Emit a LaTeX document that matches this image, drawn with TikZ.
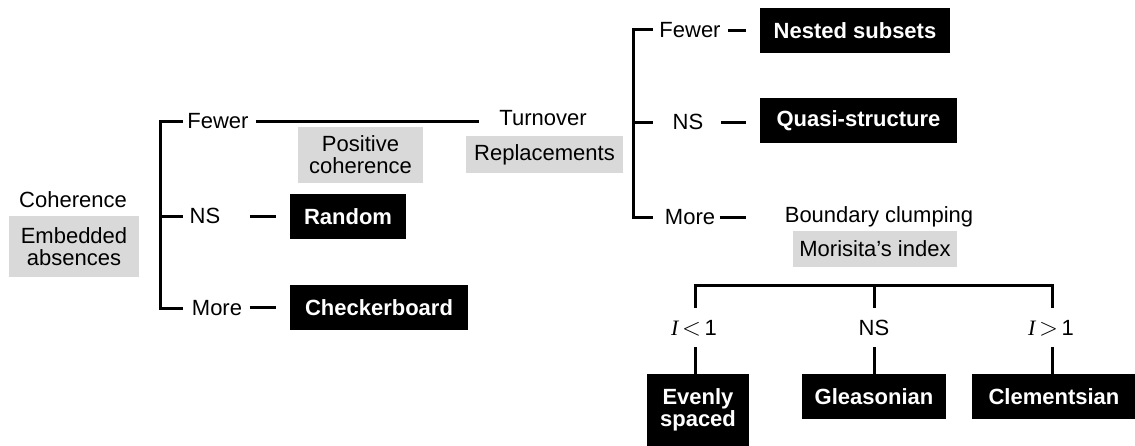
\documentclass[tikz,border=0pt]{standalone}
\usepackage{fontspec}
\setmainfont{Liberation Sans}
\newfontfamily\seriffont{Liberation Serif}
\definecolor{lightbox}{RGB}{217,217,217}
\begin{document}
\begin{tikzpicture}[x=1pt,y=-1pt,
  every node/.style={font=\fontsize{22}{25}\selectfont},
  lbl/.style={inner sep=0pt},
  graybox/.style={fill=lightbox,inner sep=0pt,align=center,font=\fontsize{22}{25}\selectfont},
  blackbox/.style={fill=black,text=white,inner sep=0pt,align=center,font=\fontsize{22}{25}\selectfont\bfseries},
  ln/.style={line width=3pt,line cap=butt,line join=miter}]
\useasboundingbox (0,0) rectangle (1135,445);
% left part
\node[lbl] (coh) at (73,200) {Coherence};
\node[graybox,minimum width=130pt,minimum height=61pt] (emb) at (74,246.5) {Embedded\\[-3pt]absences};
\node[lbl] (f1) at (218,121) {Fewer};
\node[lbl] (ns1) at (205,216) {NS};
\node[lbl] (m1) at (217,308) {More};
\coordinate (b1a) at (183,121);
\coordinate (b1b) at (160,121);
\coordinate (b1c) at (160,308);
\coordinate (b1d) at (183,308);
\coordinate (b1m) at (183,216);
\draw[ln] (b1a) -- (b1b) -- (b1c) -- (b1d);
\draw[ln] (b1b|-b1m) -- (b1m);
\node[lbl] (turn) at (543,118) {Turnover};
\draw[ln] ([xshift=7pt]f1.east) -- ([xshift=-20pt]turn.west|-f1.east);
\node[graybox,minimum width=125pt,minimum height=56pt] (pos) at (360.5,155) {Positive\\[-3pt]coherence};
\node[blackbox,minimum width=116pt,minimum height=45pt] (random) at (348,216.5) {Random};
\node[blackbox,minimum width=178pt,minimum height=45pt] (checker) at (379,307.5) {Checkerboard};
\draw[ln] ([xshift=-40pt]random.west) -- ([xshift=-14pt]random.west);
\draw[ln] ([xshift=-40pt]checker.west) -- ([xshift=-14pt]checker.west);
\node[graybox,minimum width=157pt,minimum height=37pt] (repl) at (544.5,154.5) {Replacements};
% middle part
\node[lbl] (f2) at (690,30) {Fewer};
\node[lbl] (ns2) at (688,122) {NS};
\node[lbl] (m2) at (690,217) {More};
\coordinate (b2a) at (653,29);
\coordinate (b2b) at (633,29);
\coordinate (b2c) at (633,217);
\coordinate (b2d) at (653,217);
\coordinate (b2m) at (653,122);
\draw[ln] (b2a) -- (b2b) -- (b2c) -- (b2d);
\draw[ln] (b2b|-b2m) -- (b2m);
\node[blackbox,minimum width=190pt,minimum height=45pt] (nested) at (855,30.5) {Nested subsets};
\node[blackbox,minimum width=197pt,minimum height=45pt] (quasi) at (858.5,120.5) {Quasi-structure};
\node[lbl] (bound) at (879,217) {Boundary clumping};
\draw[ln] ([xshift=-32pt]nested.west|-f2) -- ([xshift=-14pt]nested.west|-f2);
\draw[ln] ([xshift=-39pt]quasi.west|-ns2) -- ([xshift=-14pt]quasi.west|-ns2);
\draw[ln] ([xshift=-65pt]bound.west) -- ([xshift=-39pt]bound.west);
\node[graybox,minimum width=164pt,minimum height=36pt] (mor) at (875,249) {Morisita’s index};
% right lower part
\node[lbl] (lt) at (694,328) {{\seriffont\itshape I}\,{\fontsize{28}{25}\selectfont$<$}\,1};
\node[lbl] (ns3) at (874,328) {NS};
\node[lbl] (gt) at (1051,328) {{\seriffont\itshape I}\,{\fontsize{28}{25}\selectfont$>$}\,1};
\coordinate (h1) at (695,285);
\coordinate (h2) at (874,285);
\coordinate (h3) at (1052,285);
\draw[ln] (695,308) -- (h1) -- (h3) -- (1052,308);
\draw[ln] (h2) -- (874,308);
\node[blackbox,minimum width=102pt,minimum height=72pt] (even) at (698,410) {Evenly\\[-3pt]spaced};
\node[blackbox,minimum width=144pt,minimum height=45pt] (gleas) at (874,396.5) {Gleasonian};
\node[blackbox,minimum width=164pt,minimum height=45pt] (clem) at (1054,396.5) {Clementsian};
\draw[ln] (695,347) -- (695,374);
\draw[ln] (ns3|-0,347) -- (ns3|-gleas.north);
\draw[ln] (1052,347) -- (1052,374);
\end{tikzpicture}
\end{document}
